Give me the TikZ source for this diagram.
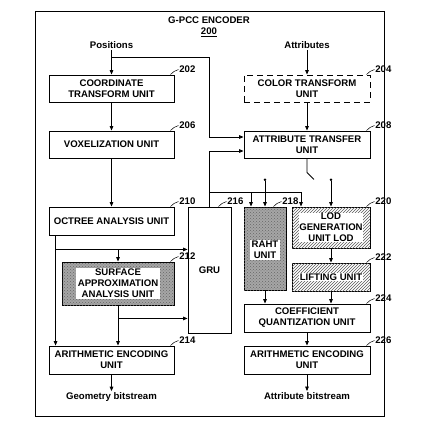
\documentclass[tikz,border=0pt]{standalone}
\usepackage{fontspec}
\setmainfont{Liberation Sans}
\usetikzlibrary{arrows.meta,calc,patterns}

% reference number with its short leader line
\newcommand{\refnum}[3][4]{%
    \node[anchor=west, inner sep=0.5pt] (#2-num) at ($(#2.north east)+(-#1,0)+(8pt,5pt)$) {#3};
    \draw[line width=0.5pt] ($(#2.north east)+(-#1,0)$) to[bend left=15] (#2-num.west);}

\begin{document}
\begin{tikzpicture}[
    x=1pt, y=-1pt,
    >={Triangle[length=4.5pt,width=3.6pt]},
    line width=0.8pt,
    every node/.style={font=\fontsize{9.6}{11}\selectfont\bfseries},
    unit/.style={
        draw,
        line width=0.9pt,
        align=center,
        inner sep=0pt,
        minimum width=125pt,
        minimum height=27pt
    },
    dotted unit/.style={
        unit,
        fill=black!35,
        postaction={pattern=crosshatch dots, pattern color=black!60}
    },
    hatched unit/.style={
        unit,
        postaction={pattern=north east lines, pattern color=black!65}
    },
    inner text/.style={
        fill=white,
        align=center,
        inner sep=1.5pt
    },
    io/.style={inner sep=1pt}
]
\useasboundingbox (0,0) rectangle (439,433);

%------------------------------------------------
% Frame and title
%------------------------------------------------
\draw[line width=1pt] (35,12) rectangle (384,416);
\node (title) at (209,20) {G-PCC ENCODER};
\node (titlenum) at (209,32) {\underline{200}};

%------------------------------------------------
% Geometry branch
%------------------------------------------------
\node[io] (pos) at (111.5,45) {Positions};
\node[unit] (ctu) at (111.5,88.5) {COORDINATE\\TRANSFORM UNIT};
\node[unit] (vox) at (111.5,144.5) {VOXELIZATION UNIT};
\node[unit, minimum height=28pt] (oct) at (111.5,221) {OCTREE ANALYSIS UNIT};
\node[dotted unit, minimum width=112pt, minimum height=43pt] (surf) at (118,283.5) {};
\node[inner text] (surftxt) at (surf) {SURFACE\\APPROXIMATION\\ANALYSIS UNIT};
\node[unit, minimum height=28pt] (aeg) at (111.5,360) {ARITHMETIC ENCODING\\UNIT};
\node[io] (geo) at (111.5,397) {Geometry bitstream};

\node[unit, minimum width=43pt, minimum height=126pt] (gru) at (209.5,270) {GRU};

%------------------------------------------------
% Attribute branch
%------------------------------------------------
\node[io] (attr) at (307,45) {Attributes};
\node[unit, minimum width=126pt, dash pattern=on 6pt off 4pt] (ctf) at (307,88.5) {COLOR TRANSFORM\\UNIT};
\node[unit, minimum width=126pt] (atu) at (307,144.5) {ATTRIBUTE TRANSFER\\UNIT};
\node[dotted unit, minimum width=42pt, minimum height=83pt] (raht) at (265,248.5) {};
\node[inner text] (rahttxt) at ([yshift=-1.5pt]raht.center) {RAHT\\UNIT};
\node[hatched unit, minimum width=78pt, minimum height=41pt] (lod) at (331,227.5) {};
\node[inner text, inner sep=0.5pt] (lodtxt) at (lod) {LOD\\GENERATION\\UNIT LOD};
\node[hatched unit, minimum width=78pt, minimum height=28pt] (lift) at (331,277) {};
\node[inner text, inner sep=0.5pt] (lifttxt) at (lift) {LIFTING UNIT};
\node[unit, minimum width=126pt, minimum height=28pt] (cqu) at (307,318) {COEFFICIENT\\QUANTIZATION UNIT};
\node[unit, minimum width=126pt, minimum height=28pt] (aea) at (307,360) {ARITHMETIC ENCODING\\UNIT};
\node[io] (abs) at (307,396) {Attribute bitstream};

%------------------------------------------------
% Reference numbers
%------------------------------------------------
\refnum{ctu}{202}
\refnum{vox}{206}
\refnum{oct}{210}
\refnum{surf}{212}
\refnum{aeg}{214}
\refnum[13]{gru}{216}
\refnum[13]{raht}{218}
\refnum{ctf}{204}
\refnum{atu}{208}
\refnum{lod}{220}
\refnum{lift}{222}
\refnum{cqu}{224}
\refnum{aea}{226}

%------------------------------------------------
% Geometry arrows
%------------------------------------------------
\coordinate (posj) at (111.5,57);
\coordinate (atin1) at ([yshift=7.5pt]atu.west);
\coordinate (atin2) at ([yshift=-6.5pt]atu.west);

\draw[->] (pos) -- (ctu);
\draw[->] (posj) -| (gru.north |- atin1) -- (atin1);
\draw[->] (ctu) -- (vox);
\draw[->] (vox) -- (oct);

\coordinate (octl) at ([xshift=7pt]oct.south west);
\coordinate (octj) at ($(octl)+(0,-14pt)$);
\draw[->] (octl) -- (octl |- aeg.north);
\draw[->] (octj) -- (octj -| gru.west);
\draw[->] (octj -| surf.north) -- (surf.north);

\coordinate (surfj) at ($(surf.south)+(0,-13pt)$);
\draw[->] (surf.south) -- (surf.south |- aeg.north);
\draw[->] (surfj) -- (surfj -| gru.west);

\draw[->] (aeg) -- (geo);

%------------------------------------------------
% Attribute arrows
%------------------------------------------------
\draw[->] (attr) -- (ctf);
\draw[->] (ctf) -- (atu);
\draw[->] (gru.north) |- (atin2);

\coordinate (cut) at ($(atu.south)+(7pt,-21pt)$);
\draw (atu.south) -- ++(0,-14pt) -- (cut);

\coordinate (bus) at ($(gru.north)+(0,14pt)$);
\coordinate (rahtin) at ([xshift=-14pt]raht.north);
\coordinate (lodin) at ([xshift=-30pt]lod.north);
\draw[->] (bus) -| (lodin);
\draw[->] (bus -| rahtin) -- (rahtin);

\coordinate (rahtsrc) at ($(raht.north)+(0,28pt)$);
\coordinate (lodsrc) at ($(lod.north)+(0,28pt)$);
\draw[{Circle[length=2.5pt]}->] (rahtsrc) -- (raht.north);
\draw[{Circle[length=2.5pt]}->] (lodsrc) -- (lod.north);

\draw[->] (lod) -- (lift);
\draw[->] (raht.south) -- (raht.south |- cqu.north);
\draw[->] (lift.south) -- (lift.south |- cqu.north);
\draw[->] (cqu) -- (aea);
\draw[->] (aea) -- (abs);

\end{tikzpicture}
\end{document}
